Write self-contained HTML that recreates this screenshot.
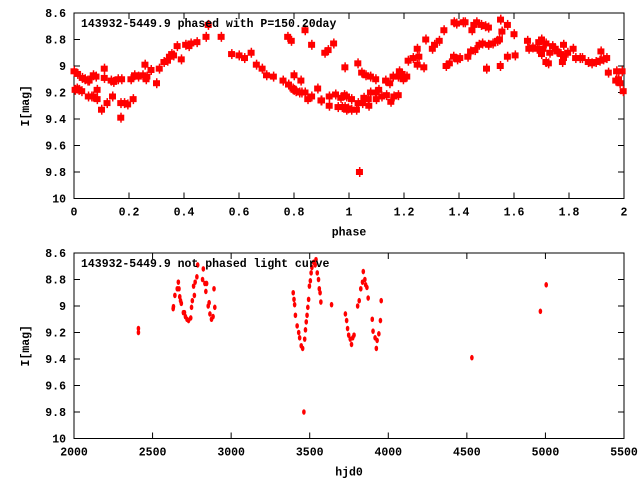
<!DOCTYPE html>
<html><head><meta charset="utf-8"><style>
html,body{margin:0;padding:0;background:#fff;}
svg{display:block;font-family:"Liberation Mono",monospace;font-weight:bold;font-size:11.5px;}
</style></head><body>
<svg id="c" width="640" height="480" viewBox="0 0 640 480"></svg>
<script>
// ---- phased panel data ----
const phaseX = [0.0,0.004,0.013,0.011,0.018,0.028,0.03,0.04,0.05,0.055,0.052,0.064,0.07,0.07,0.08,0.084,0.084,0.10,0.11,0.11,0.12,0.135,0.144,0.14,0.16,0.173,0.17,0.17,0.183,0.195,0.207,0.215,0.22,0.234,0.25,0.258,0.262,0.265,0.28,0.30,0.31,0.327,0.34,0.347,0.355,0.362,0.375,0.39,0.406,0.418,0.425,0.447,0.48,0.488,0.535,0.573,0.60,0.62,0.644,0.663,0.684,0.70,0.725,0.76,0.78,0.796,0.80,0.807,0.82,0.828,0.84,0.85,0.864,0.886,0.898,0.777,0.79,0.80,0.825,0.84,0.864,0.912,0.924,0.944,0.985,0.9,0.928,0.928,0.951,0.97,0.96,0.975,0.985,0.983,0.997,
0.991,1.009,0.991,1.009,1.027,1.033,1.049,1.054,1.07,1.072,1.078,1.096,1.099,1.108,1.119,1.136,1.152,1.163,1.179,1.032,1.046,1.061,1.078,1.097,1.133,1.148,1.16,1.179,1.183,1.193,1.197,1.21,1.038,
1.215,1.233,1.248,1.254,1.248,1.272,1.279,1.303,1.311,1.328,1.345,1.353,1.365,1.38,1.394,1.403,1.382,1.391,1.415,1.422,1.432,1.447,1.454,1.464,1.481,1.496,1.507,1.442,1.458,1.473,1.485,1.5,1.507,1.523,1.54,1.547,1.55,1.551,1.556,1.576,1.576,1.6,1.604,
1.649,1.654,1.668,1.684,1.69,1.7,1.716,1.7,1.705,1.716,1.725,1.73,1.74,1.75,1.756,1.77,1.78,1.776,1.78,1.795,1.815,1.824,1.84,1.848,1.87,1.883,1.898,1.912,1.916,1.925,1.937,1.943,1.973,1.993,1.97,1.98,1.985,1.997];
const phaseMag = [9.04,9.18,9.06,9.17,9.18,9.19,9.09,9.10,9.11,9.11,9.23,9.23,9.23,9.07,9.08,9.18,9.25,9.33,9.02,9.09,9.28,9.11,9.12,9.23,9.10,9.10,9.39,9.28,9.28,9.29,9.10,9.25,9.07,9.08,9.07,8.99,9.10,9.08,9.03,9.13,9.02,8.97,8.96,8.93,8.91,8.92,8.85,8.95,8.84,8.85,8.83,8.82,8.78,8.69,8.78,8.91,8.92,8.94,8.90,8.99,9.02,9.07,9.08,9.11,9.14,9.17,9.18,9.19,9.20,9.20,9.20,9.25,9.23,9.17,9.26,8.78,8.81,9.07,9.11,8.73,8.84,8.90,8.88,8.83,9.01,9.26,9.23,9.30,9.215,9.24,9.31,9.31,9.31,9.22,9.32,
9.23,9.25,9.33,9.33,9.33,9.28,9.28,9.24,9.25,9.30,9.20,9.20,9.25,9.18,9.23,9.22,9.27,9.23,9.22,8.98,9.05,9.07,9.08,9.10,9.11,9.13,9.08,9.08,9.04,9.06,9.10,9.08,9.80,
8.96,8.94,8.87,8.93,8.99,9.01,8.80,8.87,8.84,8.81,8.73,9.00,8.98,8.93,8.95,8.94,8.67,8.68,8.67,8.67,8.93,8.73,8.69,8.67,8.69,8.70,8.71,8.89,8.88,8.84,8.83,9.02,8.84,8.83,8.81,8.80,9.00,8.65,8.74,8.93,8.69,8.76,8.92,
8.81,8.87,8.86,8.87,8.82,8.80,8.83,8.91,8.87,8.97,8.98,8.90,8.85,8.87,8.89,8.91,8.94,8.97,8.84,8.90,8.87,8.94,8.94,8.94,8.97,8.98,8.97,8.96,8.89,8.95,8.94,9.05,9.04,9.04,9.11,9.10,9.13,9.19];
// ---- unphased panel data ----
const hjd = [2410,2410,2631,2633,2642,2657,2664,2668,2673,2678,2683,2696,2703,2709,2719,2729,2743,2748,2753,2761,2766,2771,2782,2787,2823,2818,2833,2839,2844,2854,2860,2865,2875,2885,2891,2896,
3395,3400,3404,3409,3420,3430,3436,3446,3455,3463,3468,3473,3478,3483,3488,3493,3498,3504,3509,3514,3525,3535,3540,3548,3556,3561,3566,3571,3639,
3727,3735,3741,3748,3758,3766,3774,3782,3805,3815,3825,3836,3841,3851,3856,3864,3872,3898,3903,3916,3924,3929,3940,3950,3955,4532,4968,5005];
const hjdMag = [9.17,9.20,9.02,9.005,8.92,8.87,8.82,8.87,8.93,8.96,8.98,9.05,9.05,9.08,9.10,9.11,9.09,9.01,8.96,8.85,8.92,8.82,8.78,8.69,8.72,8.80,8.83,8.89,8.83,9.00,8.975,9.06,9.10,9.08,8.87,9.01,
8.90,8.95,8.99,9.07,9.15,9.20,9.24,9.30,9.32,9.80,9.25,9.18,9.12,9.07,9.01,8.95,8.85,8.81,8.75,8.71,8.67,8.69,8.65,8.75,8.80,8.87,8.90,8.97,8.99,
9.06,9.11,9.17,9.22,9.25,9.29,9.24,9.22,9.00,8.96,8.87,8.82,8.74,8.80,8.84,8.86,8.94,9.10,9.19,9.24,9.32,9.26,9.21,9.11,8.96,9.39,9.04,8.84];
const yTicks = [8.6,8.8,9,9.2,9.4,9.6,9.8,10];
const yTickLabels = ["8.6","8.8","9","9.2","9.4","9.6","9.8","10"];
const phaseTicks = [0,0.2,0.4,0.6,0.8,1,1.2,1.4,1.6,1.8,2];
const phaseTickLabels = ["0","0.2","0.4","0.6","0.8","1","1.2","1.4","1.6","1.8","2"];
const hjdTicks = [2000,2500,3000,3500,4000,4500,5000,5500];
const hjdTickLabels = ["2000","2500","3000","3500","4000","4500","5000","5500"];

const NS="http://www.w3.org/2000/svg";
const svg=document.getElementById('c');
function mk(tag,attrs,parent){const e=document.createElementNS(NS,tag);for(const k in attrs)e.setAttribute(k,attrs[k]);(parent||svg).appendChild(e);return e;}

function panel(cfg){
  const L=74,R=624,T=cfg.top,B=cfg.top+185.5;
  const sx=v=>L+(v-cfg.xmin)/(cfg.xmax-cfg.xmin)*(R-L);
  const sy=v=>T+(v-8.6)/(10-8.6)*(B-T);
  const g=mk('g',{});
  
  
  const fr=mk('rect',{x:L,y:T,width:R-L,height:B-T,fill:'none',stroke:'#000','stroke-width':1},g);
  
  
  yTicks.forEach((v,i)=>{
    const y=sy(v);
    const t=mk('path',{d:`M${L},${y}h6M${R},${y}h-6`,stroke:'#000'},g);
    
    
    const tx=mk('text',{x:L-8,y:y+4,'text-anchor':'end'},g);tx.textContent=yTickLabels[i];
    
    
  });
  cfg.ticks.forEach((v,i)=>{
    const x=sx(v);
    const t=mk('path',{d:`M${x},${B}v-6M${x},${T}v6`,stroke:'#000'},g);
    
    
    const tx=mk('text',{x:x,y:B+17,'text-anchor':'middle'},g);tx.textContent=cfg.labels[i];
    
    
  });
  const yl=mk('text',{x:0,y:0,'text-anchor':'middle',transform:`translate(29,${(T+B)/2}) rotate(-90)`},g);
  yl.textContent='I[mag]';
  
  
  const xl=mk('text',{x:(L+R)/2,y:B+37,'text-anchor':'middle'},g);
  xl.textContent=cfg.xtitle;
  
  
  cfg.xs.forEach((v,i)=>{
    const x=sx(v),y=sy(cfg.ys[i]);
    let p;
    if(cfg.big){
      p=mk('g',{},g);
      mk('rect',{x:x-3.5,y:y-3,width:7,height:6,fill:'#f00'},p);
      mk('rect',{x:x-0.5,y:y-5,width:1.5,height:10,fill:'#f00'},p);
    } else {
      p=mk('ellipse',{cx:x,cy:y,rx:1.8,ry:2.8,fill:'#f00'},g);
    }
    
    
  });
  const ti=mk('text',{x:81,y:T+14},g);
  ti.textContent=cfg.title;
  
  
}
panel({name:'phased-panel',top:13,xmin:0,xmax:2,ticks:phaseTicks,labels:phaseTickLabels,xtitle:'phase',xs:phaseX,ys:phaseMag,big:true,title:'143932-5449.9 phased with P=150.20day'});
panel({name:'unphased-panel',top:253,xmin:2000,xmax:5500,ticks:hjdTicks,labels:hjdTickLabels,xtitle:'hjd0',xs:hjd,ys:hjdMag,big:false,title:'143932-5449.9 not phased light curve'});
</script>
</body></html>
